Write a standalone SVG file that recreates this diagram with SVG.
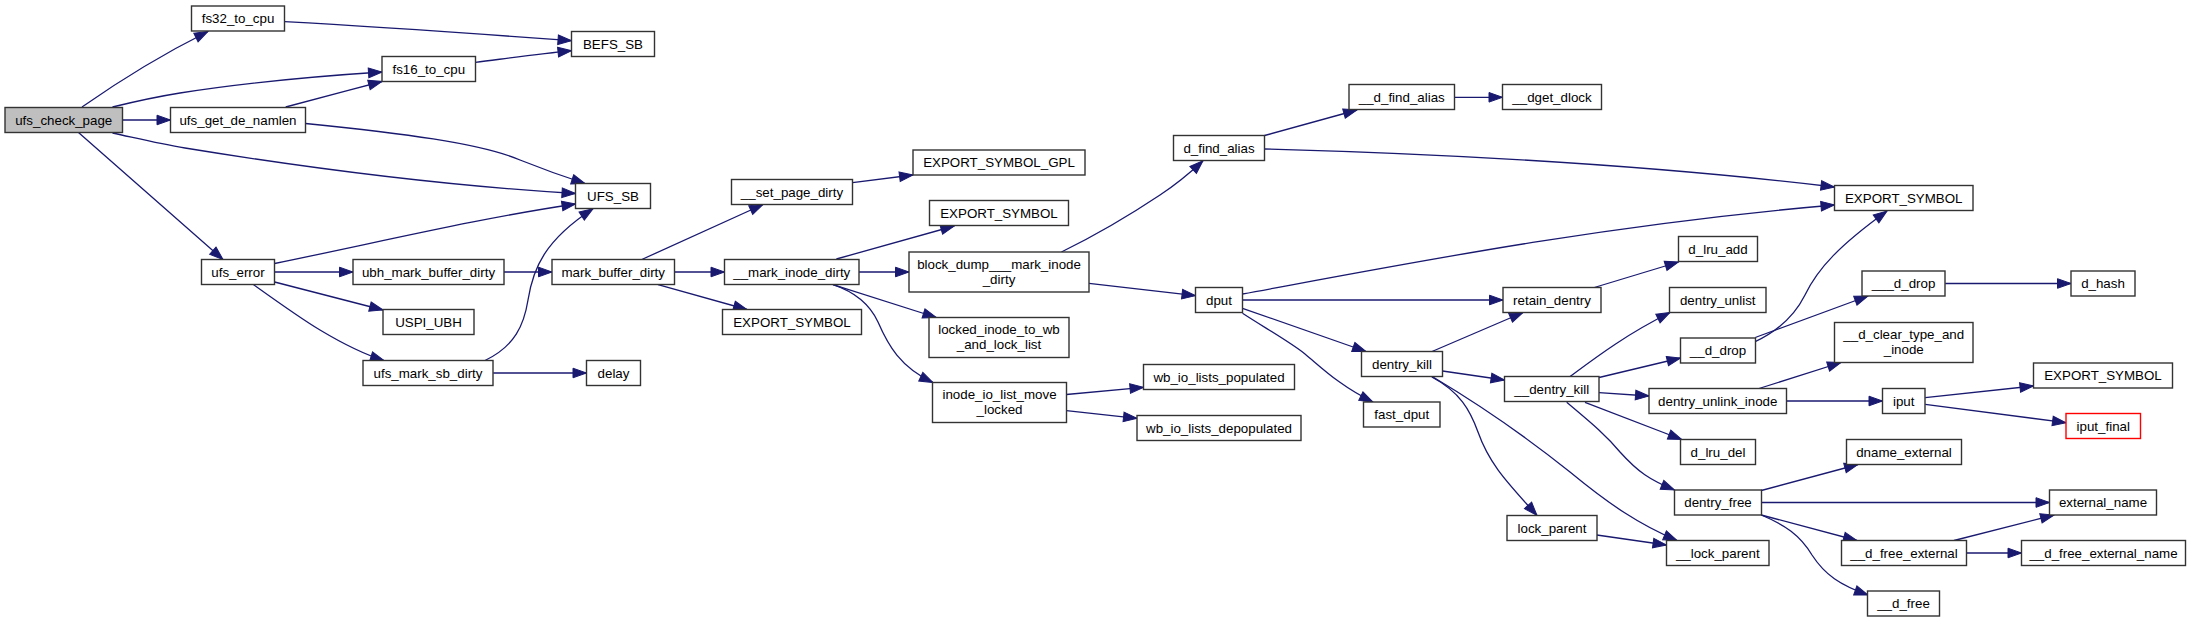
<svg xmlns="http://www.w3.org/2000/svg" width="2191" height="623" viewBox="0 0 2191 623">
<style>
.node rect{fill:#fff;stroke:#333;stroke-width:1.4}
.node text{font-family:"Liberation Sans",Arial,Helvetica,sans-serif;font-size:13.33px;text-anchor:middle;fill:#000}
.root rect{fill:#bfbfbf}
.red rect{stroke:#ff0000}
#edges path{fill:none;stroke:#191970;stroke-width:1.3;marker-end:url(#arr)}
</style>
<defs>
<marker id="arr" markerUnits="userSpaceOnUse" markerWidth="15" markerHeight="11" refX="13.5" refY="4.8" orient="auto" overflow="visible">
<path d="M0,0 L13.5,4.8 L0,9.6 z" fill="#191970" stroke="#191970" stroke-width="1"/>
</marker>
</defs>
<rect width="2191" height="623" fill="#fff"/>
<g id="edges">
<path d="M82,107 C112,86 155,58 208,31.5"/>
<path d="M112.5,107 C135,101.5 155,97 180,93 C250,82 320,76 382,72"/>
<path d="M122.5,120 L170.5,120"/>
<path d="M112.5,133 C140,139 160,144 185,148 C320,170 450,186 575.5,193.5"/>
<path d="M78.5,132.5 C110,160 180,222 223,259.5"/>
<path d="M284.6,21.7 C380,27 480,34 571.5,40.7"/>
<path d="M475.4,62.3 C510,58 540,54 571.5,50.7"/>
<path d="M285.7,107 C315,99 350,90 382,81.5"/>
<path d="M305.5,123.5 C400,133 480,143 520,160 C545,170 565,177 585,183.5"/>
<path d="M274.6,263.5 C380,242 480,218 575.5,204"/>
<path d="M274.6,272 L353,272"/>
<path d="M274.6,282 L383,310"/>
<path d="M253.6,284.7 C275,300 300,318 320,330 C340,342 360,353 384,360.5"/>
<path d="M503.9,272 L552,272"/>
<path d="M485,360.5 C515,346 524,325 528,300 C533,268 545,240 593,208.7"/>
<path d="M493.2,373 L586.5,373"/>
<path d="M641.8,259.5 L763,204.5"/>
<path d="M674.6,272 L724.5,272"/>
<path d="M658,284.7 L747,309.5"/>
<path d="M852.5,182.7 L913,175"/>
<path d="M836.4,259 L954.3,226"/>
<path d="M858.9,272 L909,272"/>
<path d="M833,284.7 L936.4,317.5"/>
<path d="M833,284.7 C855,292 870,305 878,322 C888,345 900,367 933,382.5"/>
<path d="M1066.4,394.5 L1143.5,387.3"/>
<path d="M1066.4,410.7 L1137,418.3"/>
<path d="M1061.4,252 C1090,238 1130,215 1160,195 C1178,183 1192,171 1203,160.7"/>
<path d="M1089,283.3 L1195.5,295.7"/>
<path d="M1264.6,135.5 L1357,110"/>
<path d="M1454.6,97.3 L1502.5,97.3"/>
<path d="M1264.6,149 C1450,154 1650,165 1834.5,187"/>
<path d="M1242.5,294 C1400,265 1600,225 1834.5,205"/>
<path d="M1242.5,300 L1503,300"/>
<path d="M1242.5,308.3 L1366,351.5"/>
<path d="M1242.5,313.3 C1265,328 1290,342 1305,354 C1322,368 1340,386 1373,402"/>
<path d="M1594.3,287.5 L1678.5,262"/>
<path d="M1432,351.5 L1523,312.5"/>
<path d="M1442.5,371 L1504.5,380"/>
<path d="M1431.8,377 C1460,392 1470,410 1478,432 C1490,466 1510,485 1537,515.5"/>
<path d="M1433,377 C1480,405 1530,440 1570,472 C1610,505 1640,525 1677,540.5"/>
<path d="M1596.8,535 L1666.5,545"/>
<path d="M1570,376.5 C1595,358 1625,335 1670,312.5"/>
<path d="M1599,377.5 L1680.5,358"/>
<path d="M1599,392.7 L1649,396"/>
<path d="M1585,402.3 L1681.7,439.5"/>
<path d="M1566.7,402.3 C1590,422 1605,434 1620,452 C1638,472 1650,480 1674.5,490"/>
<path d="M1755.2,337.5 L1868,296"/>
<path d="M1755.2,341.7 C1780,330 1795,315 1805,295 C1818,268 1840,245 1887,211"/>
<path d="M1945.2,283.5 L2071,283.5"/>
<path d="M1759,388.5 L1841,362.5"/>
<path d="M1786.7,401 L1882.5,401"/>
<path d="M1925.2,397.7 L2033.5,386"/>
<path d="M1925.2,404.3 L2066,422.7"/>
<path d="M1761.3,490.5 L1858,464.5"/>
<path d="M1761.3,502.5 L2049.5,502.5"/>
<path d="M1761.3,515 L1857,540.5"/>
<path d="M1761.3,515 C1785,525 1800,535 1812,555 C1825,575 1840,585 1868,595"/>
<path d="M1954,540.5 L2054,515"/>
<path d="M1966.7,553 L2021.5,553"/>
</g>
<g id="n_ufs_check_page" class="node root"><rect x="5" y="107.5" width="117.5" height="25"/><text x="63.75" y="124.5">ufs_check_page</text></g>
<g id="n_fs32_to_cpu" class="node"><rect x="191.5" y="6" width="93" height="25"/><text x="238" y="23">fs32_to_cpu</text></g>
<g id="n_fs16_to_cpu" class="node"><rect x="382" y="56.5" width="93.5" height="25"/><text x="428.75" y="73.5">fs16_to_cpu</text></g>
<g id="n_ufs_get_de_namlen" class="node"><rect x="170.5" y="107.5" width="135" height="25"/><text x="238" y="124.5">ufs_get_de_namlen</text></g>
<g id="n_ufs_error" class="node"><rect x="201.5" y="259.5" width="73" height="25"/><text x="238" y="276.5">ufs_error</text></g>
<g id="n_ubh_mark_buffer_dirty" class="node"><rect x="353" y="259.5" width="151" height="25"/><text x="428.5" y="276.5">ubh_mark_buffer_dirty</text></g>
<g id="n_uspi_ubh" class="node"><rect x="383" y="309.5" width="91" height="25"/><text x="428.5" y="326.5">USPI_UBH</text></g>
<g id="n_ufs_mark_sb_dirty" class="node"><rect x="363" y="360.5" width="130" height="25"/><text x="428" y="377.5">ufs_mark_sb_dirty</text></g>
<g id="n_befs_sb" class="node"><rect x="571.5" y="31.5" width="83" height="25"/><text x="613" y="48.5">BEFS_SB</text></g>
<g id="n_ufs_sb" class="node"><rect x="575.5" y="183.5" width="75" height="25"/><text x="613" y="200.5">UFS_SB</text></g>
<g id="n_set_page_dirty" class="node"><rect x="731.5" y="179.5" width="121" height="25"/><text x="792" y="196.5">__set_page_dirty</text></g>
<g id="n_export_symbol_gpl" class="node"><rect x="913" y="150" width="172" height="25"/><text x="999" y="167">EXPORT_SYMBOL_GPL</text></g>
<g id="n_export_symbol_1" class="node"><rect x="929.5" y="200.5" width="139" height="25"/><text x="999" y="217.5">EXPORT_SYMBOL</text></g>
<g id="n_mark_buffer_dirty" class="node"><rect x="552" y="259.5" width="122.5" height="25"/><text x="613.25" y="276.5">mark_buffer_dirty</text></g>
<g id="n_mark_inode_dirty" class="node"><rect x="724.5" y="259.5" width="134.5" height="25"/><text x="791.75" y="276.5">__mark_inode_dirty</text></g>
<g id="n_block_dump" class="node"><rect x="909" y="252" width="180" height="40"/><text x="999" y="268.5">block_dump___mark_inode</text><text x="999" y="283.5">_dirty</text></g>
<g id="n_export_symbol_2" class="node"><rect x="722.5" y="309.5" width="139" height="25"/><text x="792" y="326.5">EXPORT_SYMBOL</text></g>
<g id="n_delay" class="node"><rect x="586.5" y="360.5" width="54" height="25"/><text x="613.5" y="377.5">delay</text></g>
<g id="n_locked_inode" class="node"><rect x="929" y="317.5" width="140" height="40"/><text x="999" y="334">locked_inode_to_wb</text><text x="999" y="349">_and_lock_list</text></g>
<g id="n_inode_io_list" class="node"><rect x="932.5" y="382.5" width="134" height="40"/><text x="999.5" y="399">inode_io_list_move</text><text x="999.5" y="414">_locked</text></g>
<g id="n___d_find_alias" class="node"><rect x="1349" y="84.5" width="105.5" height="25"/><text x="1401.75" y="101.5">__d_find_alias</text></g>
<g id="n_dget_dlock" class="node"><rect x="1502.5" y="84.5" width="99" height="25"/><text x="1552" y="101.5">__dget_dlock</text></g>
<g id="n_d_find_alias" class="node"><rect x="1173.5" y="135.5" width="91" height="25"/><text x="1219" y="152.5">d_find_alias</text></g>
<g id="n_dput" class="node"><rect x="1195.5" y="287.5" width="47" height="25"/><text x="1219" y="304.5">dput</text></g>
<g id="n_retain_dentry" class="node"><rect x="1503" y="287.5" width="98" height="25"/><text x="1552" y="304.5">retain_dentry</text></g>
<g id="n_wb_io_lists_populated" class="node"><rect x="1143.5" y="364.5" width="151" height="25"/><text x="1219" y="381.5">wb_io_lists_populated</text></g>
<g id="n_wb_io_lists_depopulated" class="node"><rect x="1137" y="415.5" width="164" height="25"/><text x="1219" y="432.5">wb_io_lists_depopulated</text></g>
<g id="n_dentry_kill" class="node"><rect x="1361.5" y="351.5" width="81" height="25"/><text x="1402" y="368.5">dentry_kill</text></g>
<g id="n_fast_dput" class="node"><rect x="1363.5" y="402" width="76.5" height="25"/><text x="1401.75" y="419">fast_dput</text></g>
<g id="n___dentry_kill" class="node"><rect x="1504.5" y="376.5" width="94.5" height="25"/><text x="1551.75" y="393.5">__dentry_kill</text></g>
<g id="n_lock_parent" class="node"><rect x="1507" y="515.5" width="90" height="25"/><text x="1552" y="532.5">lock_parent</text></g>
<g id="n_export_symbol_3" class="node"><rect x="1834.5" y="185.5" width="138.5" height="25"/><text x="1903.75" y="202.5">EXPORT_SYMBOL</text></g>
<g id="n_d_lru_add" class="node"><rect x="1678.5" y="236.5" width="79" height="25"/><text x="1718" y="253.5">d_lru_add</text></g>
<g id="n_dentry_unlist" class="node"><rect x="1669.5" y="287.5" width="96.5" height="25"/><text x="1717.75" y="304.5">dentry_unlist</text></g>
<g id="n____d_drop" class="node"><rect x="1862" y="271" width="83" height="25"/><text x="1903.5" y="288">___d_drop</text></g>
<g id="n_d_hash" class="node"><rect x="2071" y="271" width="64" height="25"/><text x="2103" y="288">d_hash</text></g>
<g id="n___d_drop" class="node"><rect x="1680.5" y="338" width="75" height="25"/><text x="1718" y="355">__d_drop</text></g>
<g id="n_d_clear_type" class="node"><rect x="1834.5" y="322.5" width="138.5" height="40"/><text x="1903.75" y="339">__d_clear_type_and</text><text x="1903.75" y="354">_inode</text></g>
<g id="n_dentry_unlink_inode" class="node"><rect x="1649" y="388.5" width="137.5" height="25"/><text x="1717.75" y="405.5">dentry_unlink_inode</text></g>
<g id="n_iput" class="node"><rect x="1882.5" y="388.5" width="42.5" height="25"/><text x="1903.75" y="405.5">iput</text></g>
<g id="n_export_symbol_4" class="node"><rect x="2033.5" y="363" width="139" height="25"/><text x="2103" y="380">EXPORT_SYMBOL</text></g>
<g id="n_iput_final" class="node red"><rect x="2066" y="413.5" width="74.5" height="25"/><text x="2103.25" y="430.5">iput_final</text></g>
<g id="n_d_lru_del" class="node"><rect x="1680.5" y="439.5" width="75" height="25"/><text x="1718" y="456.5">d_lru_del</text></g>
<g id="n_dname_external" class="node"><rect x="1846.5" y="439.5" width="115" height="25"/><text x="1904" y="456.5">dname_external</text></g>
<g id="n_dentry_free" class="node"><rect x="1674.5" y="490" width="87" height="25"/><text x="1718" y="507">dentry_free</text></g>
<g id="n_external_name" class="node"><rect x="2049.5" y="490" width="107" height="25"/><text x="2103" y="507">external_name</text></g>
<g id="n___lock_parent" class="node"><rect x="1666.5" y="540.5" width="102.5" height="25"/><text x="1717.75" y="557.5">__lock_parent</text></g>
<g id="n___d_free_external" class="node"><rect x="1841.5" y="540.5" width="125" height="25"/><text x="1904" y="557.5">__d_free_external</text></g>
<g id="n___d_free_external_name" class="node"><rect x="2021.5" y="540.5" width="164" height="25"/><text x="2103.5" y="557.5">__d_free_external_name</text></g>
<g id="n___d_free" class="node"><rect x="1867.5" y="591" width="72" height="25"/><text x="1903.5" y="608">__d_free</text></g>
</svg>
